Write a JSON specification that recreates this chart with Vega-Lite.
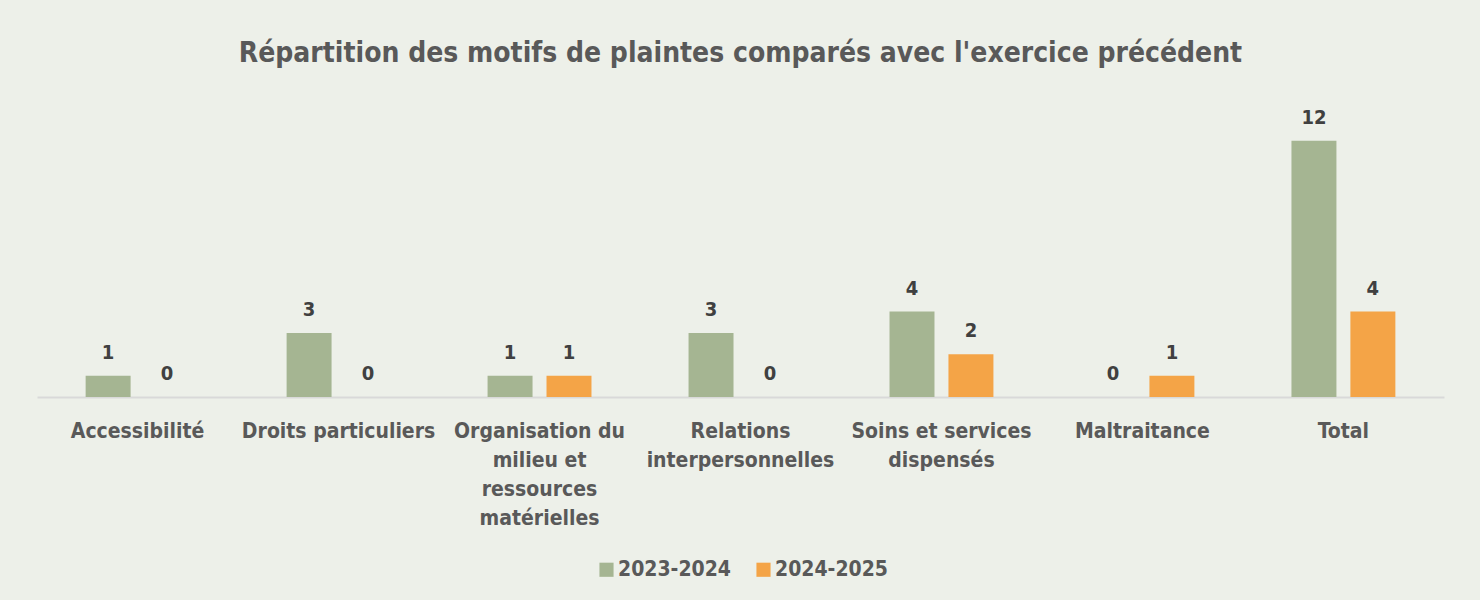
{
  "$schema": "https://vega.github.io/schema/vega-lite/v6.json",
  "width": 1407,
  "height": 299,
  "autosize": {"type": "none"},
  "padding": {"left": 37, "top": 98, "right": 36, "bottom": 203},
  "background": "#EDF0E9",
  "title": {
    "text": "Répartition des motifs de plaintes comparés avec l'exercice précédent",
    "font": "DejaVu Sans Condensed",
    "fontSize": 28,
    "fontWeight": "bold",
    "color": "#595959",
    "anchor": "middle",
    "offset": 30
  },
  "data": {
    "values": [
      {"motif": "Accessibilité", "exercice": "2023-2024", "n": 1},
      {"motif": "Accessibilité", "exercice": "2024-2025", "n": 0},
      {"motif": "Droits particuliers", "exercice": "2023-2024", "n": 3},
      {"motif": "Droits particuliers", "exercice": "2024-2025", "n": 0},
      {"motif": "Organisation du milieu et ressources matérielles", "exercice": "2023-2024", "n": 1},
      {"motif": "Organisation du milieu et ressources matérielles", "exercice": "2024-2025", "n": 1},
      {"motif": "Relations interpersonnelles", "exercice": "2023-2024", "n": 3},
      {"motif": "Relations interpersonnelles", "exercice": "2024-2025", "n": 0},
      {"motif": "Soins et services dispensés", "exercice": "2023-2024", "n": 4},
      {"motif": "Soins et services dispensés", "exercice": "2024-2025", "n": 2},
      {"motif": "Maltraitance", "exercice": "2023-2024", "n": 0},
      {"motif": "Maltraitance", "exercice": "2024-2025", "n": 1},
      {"motif": "Total", "exercice": "2023-2024", "n": 12},
      {"motif": "Total", "exercice": "2024-2025", "n": 4}
    ]
  },
  "encoding": {
    "x": {
      "field": "motif",
      "type": "nominal",
      "sort": null,
      "scale": {"paddingInner": 0.483, "paddingOuter": 0.242},
      "axis": {
        "title": null,
        "labelAngle": 0,
        "ticks": false,
        "domainColor": "#D9D9D9",
        "domainWidth": 2,
        "labelFont": "DejaVu Sans Condensed",
        "labelFontSize": 21,
        "labelFontWeight": "bold",
        "labelColor": "#595959",
        "labelPadding": 23,
        "labelLineHeight": 29,
        "labelLimit": 0,
        "labelExpr": "datum.value == 'Organisation du milieu et ressources matérielles' ? ['Organisation du', 'milieu et', 'ressources', 'matérielles'] : datum.value == 'Relations interpersonnelles' ? ['Relations', 'interpersonnelles'] : datum.value == 'Soins et services dispensés' ? ['Soins et services', 'dispensés'] : datum.value"
      }
    },
    "xOffset": {
      "field": "exercice",
      "type": "nominal",
      "scale": {"paddingInner": 0.237, "paddingOuter": 0}
    },
    "y": {
      "field": "n",
      "type": "quantitative",
      "scale": {"domain": [0, 14]},
      "axis": null
    }
  },
  "layer": [
    {
      "mark": {"type": "bar"},
      "encoding": {
        "color": {
          "field": "exercice",
          "type": "nominal",
          "scale": {"domain": ["2023-2024", "2024-2025"], "range": ["#A5B592", "#F4A447"]},
          "legend": {
            "title": null,
            "orient": "none",
            "legendX": 559,
            "legendY": 461,
            "direction": "horizontal",
            "symbolType": "square",
            "symbolSize": 200,
            "symbolStrokeWidth": 0,
            "labelFont": "DejaVu Sans Condensed",
            "labelFontSize": 21,
            "labelFontWeight": "bold",
            "labelColor": "#595959",
            "labelOffset": 1,
            "columnPadding": 21
          }
        }
      }
    },
    {
      "mark": {
        "type": "text",
        "baseline": "middle",
        "dy": -23,
        "font": "DejaVu Sans Condensed",
        "fontSize": 20,
        "fontWeight": "bold",
        "color": "#404040"
      },
      "encoding": {
        "text": {"field": "n", "type": "quantitative"}
      }
    }
  ],
  "config": {
    "view": {"stroke": null},
    "axis": {"grid": false}
  }
}
